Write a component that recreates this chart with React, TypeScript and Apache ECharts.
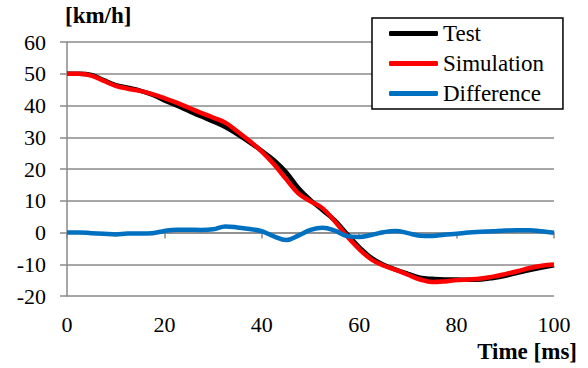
import React, { useEffect, useRef } from "react";
import * as echarts from "echarts";

// Time samples in ms
const timeMs = [
  0, 2.5, 5, 7.5, 10, 12.5, 15, 17.5, 20, 22.5, 25, 27.5, 30, 32.5, 35, 37.5, 40,
  42.5, 45, 47.5, 50, 52.5, 55, 57.5, 60, 62.5, 65, 67.5, 70, 72.5, 75, 77.5, 80,
  82.5, 85, 87.5, 90, 92.5, 95, 97.5, 100,
];

// Measured speed [km/h]
const testSpeed = [
  50, 50, 49.6, 48.0, 46.4, 45.6, 44.7, 43.4, 41.6, 40.0, 38.3, 36.6, 35.0, 33.2,
  30.9, 28.4, 25.7, 22.8, 19.0, 14.0, 10.2, 7.0, 3.8, -0.5, -4.6, -8.0, -10.2,
  -11.7, -13.0, -14.2, -14.6, -14.8, -14.8, -14.9, -14.8, -14.3, -13.6, -12.7,
  -11.8, -11.0, -10.3,
];

// Simulated speed [km/h]
const simulationSpeed = [
  50, 50, 49.4, 47.8, 46.2, 45.3, 44.6, 43.6, 42.3, 40.9, 39.3, 37.7, 36.2, 34.6,
  31.8, 28.8, 25.5, 21.5, 16.8, 12.3, 9.8, 7.6, 3.5, -1.2, -5.2, -8.5, -10.4,
  -11.8, -13.3, -14.8, -15.6, -15.4, -15.0, -14.8, -14.5, -13.9, -13.1, -12.2,
  -11.2, -10.5, -10.1,
];

// Difference between simulation and test [km/h]
const differenceSpeed = [
  0, 0, -0.2, -0.4, -0.6, -0.3, -0.3, -0.2, 0.5, 0.9, 0.9, 0.8, 1.0, 1.9, 1.6,
  1.1, 0.4, -1.2, -2.4, -1.0, 0.8, 1.5, 0.6, -1.1, -1.4, -0.8, 0.1, 0.5, -0.2,
  -1.0, -1.1, -0.7, -0.4, 0.0, 0.2, 0.4, 0.6, 0.7, 0.7, 0.4, -0.1,
];

const seriesNames = ["Test", "Simulation", "Difference"];
const seriesColors = ["#000000", "#ff0000", "#0070c0"];

const FONT = "Liberation Serif";
const GRID_GRAY = "#8a8a8a";

const pairs = (ys: number[]) => timeMs.map((t, i) => [t, ys[i]]);

export default function App() {
  const ref = useRef<HTMLDivElement>(null);

  useEffect(() => {
    if (!ref.current) return;
    const chart = echarts.init(ref.current, undefined, { renderer: "svg" });
    const values = [testSpeed, simulationSpeed, differenceSpeed];

    const labelStyle = { color: "#000", fontSize: 22, fontFamily: FONT };

    chart.setOption({
      animation: false,
      backgroundColor: "#ffffff",
      textStyle: { fontFamily: FONT },
      grid: { left: 67, right: 34, top: 42, bottom: 72 },
      xAxis: [
        {
          // labels along the bottom of the plot
          type: "value",
          min: 0,
          max: 100,
          interval: 20,
          position: "bottom",
          axisLine: { show: false, onZero: false },
          axisTick: { show: false },
          splitLine: { show: false },
          axisLabel: { ...labelStyle, margin: 17 },
        },
        {
          // axis line and ticks crossing at zero
          type: "value",
          min: 0,
          max: 100,
          interval: 20,
          position: "bottom",
          axisLine: {
            show: true,
            onZero: true,
            lineStyle: { color: GRID_GRAY, width: 1.5 },
          },
          axisTick: {
            show: true,
            length: 6,
            lineStyle: { color: GRID_GRAY, width: 1.5 },
          },
          axisLabel: { show: false },
          splitLine: { show: false },
        },
      ],
      yAxis: {
        type: "value",
        min: -20,
        max: 60,
        interval: 10,
        axisLine: {
          show: true,
          onZero: false,
          lineStyle: { color: GRID_GRAY, width: 1.5 },
        },
        axisTick: {
          show: true,
          length: 7,
          lineStyle: { color: GRID_GRAY, width: 1.5 },
        },
        splitLine: { show: true, lineStyle: { color: GRID_GRAY, width: 1.5 } },
        axisLabel: { ...labelStyle, margin: 21 },
      },
      legend: {
        orient: "vertical",
        left: 372,
        top: 18,
        data: seriesNames,
        icon: "roundRect",
        itemWidth: 49,
        itemHeight: 5,
        itemGap: 7,
        padding: [4, 19, 4, 17],
        borderColor: "#000",
        borderWidth: 1.5,
        backgroundColor: "#ffffff",
        textStyle: {
          color: "#000",
          fontSize: 23,
          fontFamily: FONT,
          lineHeight: 22,
        },
      },
      graphic: [
        {
          type: "text",
          left: 65,
          top: 4,
          style: {
            text: "[km/h]",
            fill: "#000",
            fontFamily: FONT,
            fontWeight: "bold",
            fontSize: 23,
          },
        },
        {
          type: "text",
          right: 11,
          top: 340,
          style: {
            text: "Time [ms]",
            fill: "#000",
            fontFamily: FONT,
            fontWeight: "bold",
            fontSize: 23,
          },
        },
      ],
      series: seriesNames.map((name, i) => ({
        name,
        type: "line",
        xAxisIndex: 0,
        data: pairs(values[i]),
        smooth: 0.4,
        symbol: "none",
        color: seriesColors[i],
        lineStyle: { color: seriesColors[i], width: 4.5 },
        z: 3 + i,
      })),
    });

    return () => chart.dispose();
  }, []);

  return (
    <div
      ref={ref}
      style={{ position: "fixed", left: 0, top: 0, width: 588, height: 368 }}
    />
  );
}
